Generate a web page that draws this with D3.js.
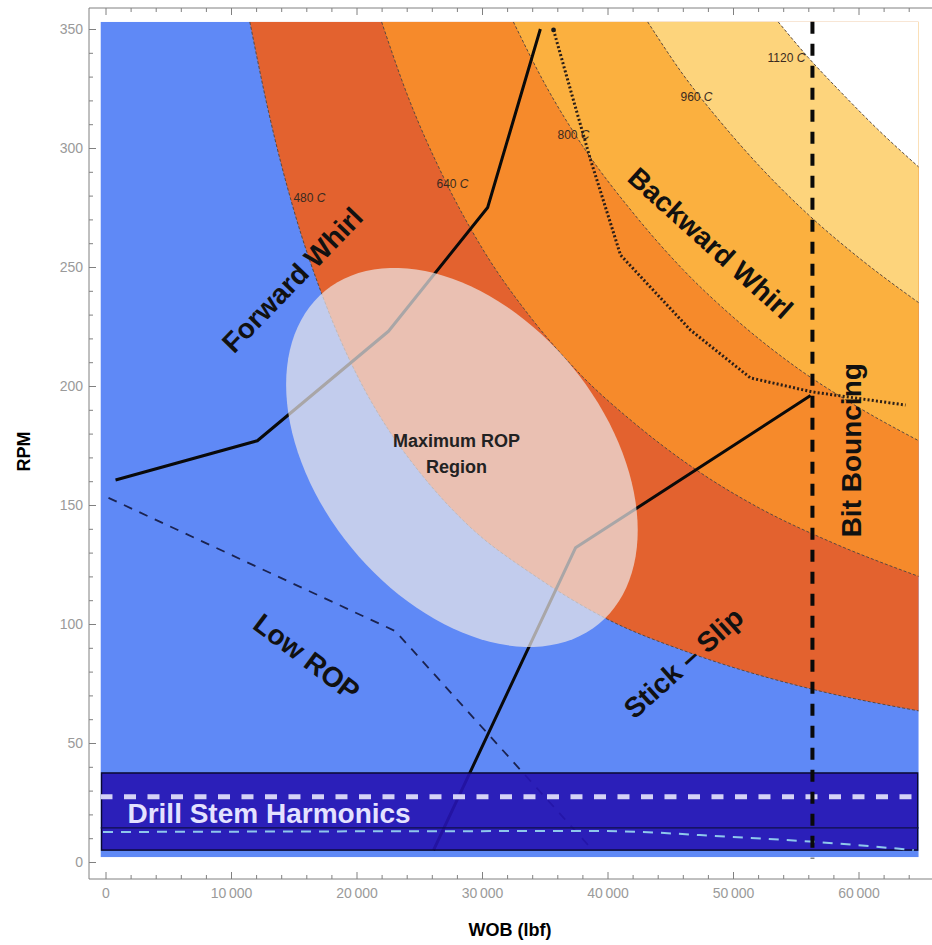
<!DOCTYPE html>
<html>
<head>
<meta charset="utf-8">
<script src="https://cdn.jsdelivr.net/npm/d3@7"></script>
<style>
  body { margin: 0; background: #fff; }
  svg { display: block; font-family: "Liberation Sans", Arial, sans-serif; }
</style>
</head>
<body>
<svg id="chart" width="932" height="945"></svg>
<script>
// ---- Axis ticks ----
const wobTicks = [0, 10000, 20000, 30000, 40000, 50000, 60000];
const wobTickLabels = ["0", "10\u2009000", "20\u2009000", "30\u2009000", "40\u2009000", "50\u2009000", "60\u2009000"];
const rpmTicks = [0, 50, 100, 150, 200, 250, 300, 350];
const rpmTickLabels = ["0", "50", "100", "150", "200", "250", "300", "350"];

// ---- Operating envelope (WOB lbf, RPM) ----
const envelopeWob = [-400, 64800];
const envelopeRpm = [2, 353];

// ---- Bit temperature contours, [WOB, RPM] ----
const contour480 = [[11500, 353], [13000, 315], [15000, 274], [17500, 235], [20000, 205], [22500, 182], [25000, 164], [29000, 141], [34000, 121], [40000, 102], [46500, 88], [56000, 73], [64800, 63.5]];
const contour640 = [[22000, 353], [24000, 323], [27000, 287], [30000, 258], [34000, 228], [38000, 204], [42000, 185], [47000, 165], [52000, 149], [58000, 134], [64800, 120]];
const contour800 = [[32500, 353], [35000, 327], [38000, 301], [42000, 273], [46000, 249], [50000, 229], [55000, 208], [60000, 191], [64800, 177]];
const contour960 = [[43200, 353], [46000, 331], [49000, 311], [52000, 293], [56000, 272], [60000, 254], [64800, 235]];
const contour1120 = [[53600, 353], [56000, 338], [58500, 324], [61500, 308], [64800, 292]];
const contourLevels = [480, 640, 800, 960, 1120];

// ---- Dysfunction boundaries, [WOB, RPM] ----
const forwardWhirlLine = [[800, 160.5], [12100, 177], [22550, 223], [30450, 275], [34650, 350]];
const stickSlipLine = [[26140, 5], [37450, 132], [56180, 196]];
const lowRopLine = [[240, 153], [23100, 97], [38650, 6]];
const backwardWhirlLine = [[35700, 349.6], [37290, 320], [38650, 295], [41040, 255], [46610, 223.5], [51390, 203.4], [56330, 197.5], [63750, 192]];
const bitBouncingWob = 56330;
const bitBouncingRpm = [1.5, 353];

// ---- Drill stem harmonics band ----
const harmonicsRpm = [5, 37.4];
const harmonicsCenterRpm = 14.3;
const harmonicsUpperRpm = 27.4;
const harmonicsLowerLine = [[-200, 12.6], [39400, 13], [50000, 10.5], [56700, 8.4], [64400, 5]];

// ---- Maximum ROP region (ellipse: centre and two semi-axis vectors) ----
const ropCenter = [28400, 170];
const ropMajor = [10900, -70];
const ropMinor = [-8800, -38];

// ---- Scales ----
const x = d3.scaleLinear().domain([0, 60000]).range([105.5, 858.5]);
const y = d3.scaleLinear().domain([0, 350]).range([862, 29]);

const svg = d3.select("#chart");
const frameLeft = 89, frameTop = 8, frameBottom = 879, frameRight = 932;

// Clip everything to the operating envelope
svg.append("defs").append("clipPath").attr("id", "env")
  .append("rect")
  .attr("x", x(envelopeWob[0])).attr("y", y(envelopeRpm[1]))
  .attr("width", x(envelopeWob[1]) - x(envelopeWob[0]))
  .attr("height", y(envelopeRpm[0]) - y(envelopeRpm[1]));

const plot = svg.append("g").attr("clip-path", "url(#env)");

// base zone (below 480 C)
plot.append("rect")
  .attr("x", x(envelopeWob[0])).attr("y", y(envelopeRpm[1]))
  .attr("width", x(envelopeWob[1]) - x(envelopeWob[0]))
  .attr("height", y(envelopeRpm[0]) - y(envelopeRpm[1]))
  .attr("fill", "#5f89f6");

const zoneColors = ["#e3622f", "#f68a2b", "#fbb03f", "#fdd47c", "#ffffff"];
const contours = [contour480, contour640, contour800, contour960, contour1120];

const zoneArea = d3.area()
  .x(d => x(d[0]))
  .y0(y(envelopeRpm[1]))
  .y1(d => y(d[1]))
  .curve(d3.curveMonotoneX);
const curveLine = d3.line().x(d => x(d[0])).y(d => y(d[1])).curve(d3.curveMonotoneX);
const straight = d3.line().x(d => x(d[0])).y(d => y(d[1]));

contours.forEach((c, i) => {
  plot.append("path").attr("d", zoneArea(c)).attr("fill", zoneColors[i]);
});
contours.forEach(c => {
  plot.append("path").attr("d", curveLine(c))
    .attr("fill", "none").attr("stroke", "#5a4a40").attr("stroke-width", 1)
    .attr("stroke-dasharray", "3,2");
});

// contour labels
const contourLabelAt = [[16250, 279], [27650, 285], [37290, 305.5], [47090, 321.4], [54260, 337.8]];
contourLevels.forEach((lv, i) => {
  const t = plot.append("text")
    .attr("x", x(contourLabelAt[i][0])).attr("y", y(contourLabelAt[i][1]))
    .attr("text-anchor", "middle").attr("dominant-baseline", "central")
    .attr("font-size", 12).attr("fill", "#3a2a20");
  t.append("tspan").text(lv + " ");
  t.append("tspan").attr("font-style", "italic").text("C");
});

// dysfunction boundaries
plot.append("path").attr("d", straight(lowRopLine))
  .attr("fill", "none").attr("stroke", "#1b2350").attr("stroke-width", 1.8)
  .attr("stroke-dasharray", "9,8");
plot.append("path").attr("d", straight(forwardWhirlLine))
  .attr("fill", "none").attr("stroke", "#0a0a0a").attr("stroke-width", 3).attr("stroke-linejoin", "round");
plot.append("path").attr("d", straight(stickSlipLine))
  .attr("fill", "none").attr("stroke", "#0a0a0a").attr("stroke-width", 3).attr("stroke-linejoin", "round");
plot.append("path").attr("d", straight(backwardWhirlLine))
  .attr("fill", "none").attr("stroke", "#2a1e18").attr("stroke-width", 3)
  .attr("stroke-dasharray", "2,2.2");
plot.append("circle").attr("cx", x(backwardWhirlLine[0][0])).attr("cy", y(backwardWhirlLine[0][1]))
  .attr("r", 2.4).attr("fill", "#1a1a1a");

// maximum ROP region
const ellipsePts = d3.range(0, 361, 3).map(deg => {
  const t = deg * Math.PI / 180;
  return [ropCenter[0] + ropMajor[0] * Math.cos(t) + ropMinor[0] * Math.sin(t),
          ropCenter[1] + ropMajor[1] * Math.cos(t) + ropMinor[1] * Math.sin(t)];
});
plot.append("path").attr("d", straight(ellipsePts) + "Z")
  .attr("fill", "#ece8ea").attr("fill-opacity", 0.7);

// drill stem harmonics band
plot.append("rect")
  .attr("x", x(envelopeWob[0]) + 1).attr("y", y(harmonicsRpm[1]))
  .attr("width", x(envelopeWob[1]) - x(envelopeWob[0]) - 2)
  .attr("height", y(harmonicsRpm[0]) - y(harmonicsRpm[1]))
  .attr("fill", "#2614b2").attr("fill-opacity", 0.9)
  .attr("stroke", "#0a0a30").attr("stroke-width", 1.5);
plot.append("line")
  .attr("x1", x(envelopeWob[0])).attr("x2", x(envelopeWob[1]))
  .attr("y1", y(harmonicsCenterRpm)).attr("y2", y(harmonicsCenterRpm))
  .attr("stroke", "#10104a").attr("stroke-width", 1.2);
plot.append("line")
  .attr("x1", x(envelopeWob[0])).attr("x2", x(envelopeWob[1]))
  .attr("y1", y(harmonicsUpperRpm)).attr("y2", y(harmonicsUpperRpm))
  .attr("stroke", "#d4d2f6").attr("stroke-width", 5)
  .attr("stroke-dasharray", "12,11.5");
plot.append("path").attr("d", curveLine(harmonicsLowerLine))
  .attr("fill", "none").attr("stroke", "#8ec8ec").attr("stroke-width", 2)
  .attr("stroke-dasharray", "10,8");

// bit bouncing limit
svg.append("line")
  .attr("x1", x(bitBouncingWob)).attr("x2", x(bitBouncingWob))
  .attr("y1", y(bitBouncingRpm[1])).attr("y2", y(bitBouncingRpm[0]))
  .attr("stroke", "#0a0a0a").attr("stroke-width", 4)
  .attr("stroke-dasharray", "12,10");

// region labels
const bigLabels = [
  { text: "Forward Whirl", at: [14900, 244.5], angle: -46 },
  { text: "Backward Whirl", at: [48200, 260], angle: 42 },
  { text: "Low ROP", at: [16020, 86], angle: 37 },
  { text: "Stick \u2013 Slip", at: [46060, 83.6], angle: -42 },
  { text: "Bit Bouncing", at: [59440, 173], angle: -90 }
];
bigLabels.forEach(l => {
  svg.append("text")
    .attr("transform", `translate(${x(l.at[0])},${y(l.at[1])}) rotate(${l.angle})`)
    .attr("text-anchor", "middle").attr("dominant-baseline", "central")
    .attr("font-size", 28).attr("font-weight", "bold").attr("fill", "#111")
    .text(l.text);
});
svg.append("text")
  .attr("x", x(1750)).attr("y", y(16.4))
  .attr("font-size", 28).attr("font-weight", "bold").attr("fill", "#e4e2ff")
  .text("Drill Stem Harmonics");
svg.append("text")
  .attr("x", x(27970)).attr("y", y(174.4))
  .attr("text-anchor", "middle").attr("font-size", 18).attr("font-weight", "bold").attr("fill", "#222")
  .text("Maximum ROP");
svg.append("text")
  .attr("x", x(27970)).attr("y", y(163.4))
  .attr("text-anchor", "middle").attr("font-size", 18).attr("font-weight", "bold").attr("fill", "#222")
  .text("Region");

// ---- Frame and axes ----
const axisColor = "#808080";
const wobMinor = d3.range(0, 66001, 2000).filter(v => v % 10000 !== 0);
const rpmMinor = d3.range(0, 351, 10).filter(v => v % 50 !== 0);

function styleAxis(g) {
  g.select(".domain").remove();
  g.selectAll(".tick line").attr("stroke", axisColor);
  g.selectAll(".tick text").attr("fill", "#9a9a9a").attr("font-size", 14)
    .attr("font-family", "\"Liberation Sans\", Arial, sans-serif");
}

svg.append("g").attr("transform", `translate(0,${frameBottom})`)
  .call(d3.axisBottom(x).tickValues(wobTicks).tickFormat((d, i) => wobTickLabels[i])
    .tickSizeInner(-7).tickSizeOuter(0).tickPadding(9))
  .call(styleAxis);
svg.append("g").attr("transform", `translate(0,${frameBottom})`)
  .call(d3.axisBottom(x).tickValues(wobMinor.filter(v => v <= 64000)).tickFormat("").tickSizeInner(-4).tickSizeOuter(0))
  .call(styleAxis);
svg.append("g").attr("transform", `translate(0,${frameTop})`)
  .call(d3.axisTop(x).tickValues(wobTicks).tickFormat("").tickSizeInner(-7).tickSizeOuter(0))
  .call(styleAxis);
svg.append("g").attr("transform", `translate(0,${frameTop})`)
  .call(d3.axisTop(x).tickValues(wobMinor).tickFormat("").tickSizeInner(-4).tickSizeOuter(0))
  .call(styleAxis);
svg.append("g").attr("transform", `translate(${frameLeft},0)`)
  .call(d3.axisLeft(y).tickValues(rpmTicks).tickFormat((d, i) => rpmTickLabels[i])
    .tickSizeInner(-7).tickSizeOuter(0).tickPadding(6))
  .call(styleAxis);
svg.append("g").attr("transform", `translate(${frameLeft},0)`)
  .call(d3.axisLeft(y).tickValues(rpmMinor).tickFormat("").tickSizeInner(-4).tickSizeOuter(0))
  .call(styleAxis);

svg.append("path")
  .attr("d", `M${frameRight},${frameTop}H${frameLeft}V${frameBottom}H${frameRight}`)
  .attr("fill", "none").attr("stroke", axisColor).attr("stroke-width", 1);

// axis titles
svg.append("text")
  .attr("transform", `translate(24,${(frameTop + frameBottom) / 2 + 8}) rotate(-90)`)
  .attr("text-anchor", "middle").attr("dominant-baseline", "central")
  .attr("font-size", 18).attr("font-weight", "bold").attr("fill", "#000")
  .text("RPM");
svg.append("text")
  .attr("x", 510).attr("y", 936)
  .attr("text-anchor", "middle")
  .attr("font-size", 18).attr("font-weight", "bold").attr("fill", "#000")
  .text("WOB (lbf)");
</script>
</body>
</html>
